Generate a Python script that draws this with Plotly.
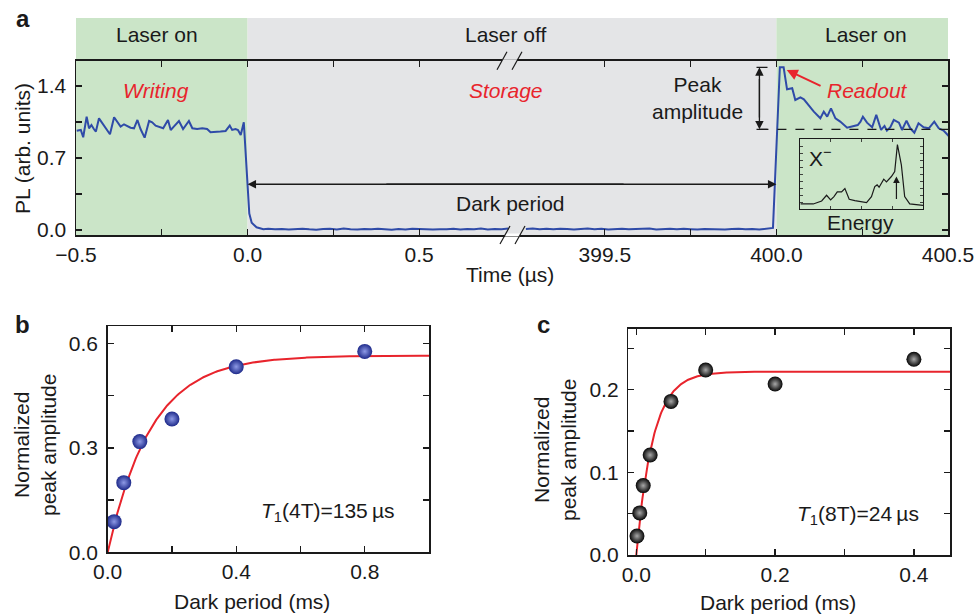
import numpy as np
import plotly.graph_objects as go

W, H = 975, 615
FONT = "Liberation Sans, Arial, Helvetica, sans-serif"
RED = "#e8242c"
BLUE = "#2f4ba8"
GREEN = "#cbe5c8"
GRAY = "#e4e5e7"
INK = "#1a1a1a"


def px(x):
    return x / W


def py(y):
    return 1 - y / H


# ---------------- Panel a data (time in microseconds) ----------------
OFFSET = 398.459  # broken-axis shift for the 399.x - 400.x segment

t_write = [-0.498, -0.486, -0.479, -0.469, -0.462, -0.455, -0.448, -0.442, -0.433, -0.423,
           -0.414, -0.401, -0.389, -0.380, -0.370, -0.360, -0.351, -0.341, -0.331, -0.321,
           -0.312, -0.300, -0.287, -0.278, -0.268, -0.258, -0.246, -0.232, -0.224, -0.215,
           -0.200, -0.188, -0.171, -0.161, -0.147, -0.132, -0.118, -0.108, -0.093, -0.079,
           -0.064, -0.052, -0.045, -0.035, -0.028, -0.020, -0.011, 0.005, 0.012, 0.026, 0.046]
pl_write = [0.965, 0.972, 0.901, 1.101, 0.988, 1.020, 0.981, 0.956, 1.085, 1.037,
            0.988, 0.930, 1.095, 1.053, 1.004, 1.027, 1.014, 0.994, 0.988, 1.069,
            0.981, 0.897, 1.059, 1.046, 1.014, 1.004, 0.988, 1.069, 0.972, 1.004,
            1.059, 0.981, 1.059, 0.988, 0.981, 0.988, 0.981, 0.949, 0.949, 0.956,
            0.962, 1.014, 0.972, 0.981, 0.972, 0.923, 1.046, 0.160, 0.070, 0.026, 0.008]

t_dark1 = [0.06, 0.08, 0.10, 0.12, 0.14, 0.16, 0.18, 0.20, 0.22, 0.24, 0.26, 0.28,
           0.30, 0.32, 0.34, 0.36, 0.38, 0.40, 0.42, 0.44, 0.46, 0.48, 0.50, 0.52,
           0.54, 0.56, 0.58, 0.60, 0.62, 0.64, 0.66, 0.68, 0.70, 0.72, 0.74, 0.76]
pl_dark1 = [0.012, 0.006, 0.010, 0.004, 0.008, 0.012, 0.006, 0.003, 0.009, 0.011, 0.005, 0.013,
            0.007, 0.004, 0.010, 0.006, 0.012, 0.008, 0.003, 0.009, 0.005, 0.011, 0.007, 0.010,
            0.004, 0.008, 0.006, 0.012, 0.005, 0.009, 0.007, 0.013, 0.004, 0.010, 0.006, 0.014]

t_dark2 = [399.27, 399.29, 399.31, 399.33, 399.35, 399.37, 399.39, 399.41, 399.43, 399.45,
           399.47, 399.49, 399.51, 399.53, 399.55, 399.57, 399.59, 399.61, 399.63, 399.65,
           399.67, 399.69, 399.71, 399.73, 399.75, 399.77, 399.79, 399.81, 399.83, 399.85,
           399.87, 399.89, 399.91, 399.93, 399.95, 399.97]
pl_dark2 = [0.010, 0.014, 0.008, 0.011, 0.006, 0.012, 0.009, 0.004, 0.010, 0.013, 0.007, 0.011,
            0.005, 0.009, 0.012, 0.006, 0.010, 0.008, 0.013, 0.005, 0.009, 0.011, 0.006, 0.012,
            0.008, 0.004, 0.010, 0.007, 0.011, 0.005, 0.009, 0.012, 0.006, 0.010, 0.004, 0.014]

t_read = [399.99, 400.010, 400.021, 400.031, 400.046, 400.055, 400.070, 400.080, 400.089,
          400.109, 400.128, 400.138, 400.148, 400.159, 400.172, 400.186, 400.206, 400.221,
          400.237, 400.245, 400.252, 400.264, 400.279, 400.291, 400.305, 400.315, 400.322,
          400.332, 400.342, 400.357, 400.366, 400.379, 400.390, 400.402, 400.414, 400.429,
          400.444, 400.460, 400.473, 400.487, 400.502]
pl_read = [0.020, 1.581, 1.581, 1.367, 1.377, 1.263, 1.289, 1.270, 1.231,
           1.150, 1.085, 1.150, 1.101, 1.182, 1.085, 1.053, 0.994, 1.004,
           1.020, 1.053, 1.101, 1.043, 0.998, 1.118, 0.972, 1.011, 0.965,
           0.998, 1.069, 1.043, 0.972, 1.062, 0.988, 0.946, 1.037, 0.998,
           0.988, 1.053, 0.988, 0.965, 0.913]

PEAK, BASELINE = 1.581, 0.978
DARK_ARROW_Y = 0.444

# inset spectrum (normalised energy, intensity)
e_x = [0.005, 0.108, 0.176, 0.216, 0.249, 0.276, 0.303, 0.338, 0.365, 0.400, 0.446, 0.486,
       0.541, 0.581, 0.608, 0.627, 0.643, 0.681, 0.703, 0.743, 0.770, 0.792, 0.824, 0.851,
       0.892, 1.000]
e_y = [0.072, 0.072, 0.115, 0.196, 0.129, 0.177, 0.244, 0.244, 0.292, 0.139, 0.120, 0.110,
       0.091, 0.177, 0.320, 0.344, 0.311, 0.426, 0.388, 0.464, 0.536, 0.919, 0.632, 0.177,
       0.072, 0.053]

# ---------------- Panel b / c data ----------------
dark_b = [0.02, 0.05, 0.10, 0.20, 0.40, 0.80]
amp_b = [0.088, 0.200, 0.318, 0.383, 0.533, 0.577]
A_b, T1_b = 0.565, 0.135  # ms

dark_c = [0.001, 0.005, 0.010, 0.020, 0.050, 0.100, 0.200, 0.400]
amp_c = [0.023, 0.051, 0.084, 0.121, 0.186, 0.224, 0.207, 0.237]
A_c, T1_c = 0.222, 0.024  # ms


def u(t):
    """map real time to broken-axis coordinate"""
    return [v if v < 10 else v - OFFSET for v in t]


U400 = 400.0 - OFFSET
U4005 = 400.5 - OFFSET

fig = go.Figure()

# ---- panel a trace ----
xa = u(t_write) + u(t_dark1) + [None] + u(t_dark2) + u(t_read)
ya = pl_write + pl_dark1 + [None] + pl_dark2 + pl_read
fig.add_trace(go.Scatter(x=xa, y=ya, mode="lines", line=dict(color=BLUE, width=2),
                         connectgaps=False, xaxis="x", yaxis="y", showlegend=False,
                         hoverinfo="skip"))

# ---- inset ----
fig.add_trace(go.Scatter(x=e_x, y=e_y, mode="lines", line=dict(color=INK, width=1.2),
                         xaxis="x4", yaxis="y4", showlegend=False, hoverinfo="skip"))

# ---- panel b ----
fb = np.linspace(0, 1.0, 300)
fig.add_trace(go.Scatter(x=fb, y=A_b * (1 - np.exp(-fb / T1_b)), mode="lines",
                         line=dict(color=RED, width=2), xaxis="x2", yaxis="y2",
                         showlegend=False, hoverinfo="skip"))
fig.add_trace(go.Scatter(x=dark_b, y=amp_b, mode="markers", xaxis="x2", yaxis="y2",
                         marker=dict(size=15, color="#1e2a8a",
                                     gradient=dict(type="radial", color="#8e9ae6"),
                                     line=dict(width=0)),
                         showlegend=False, hoverinfo="skip"))

# ---- panel c ----
fc = np.linspace(0, 0.452, 400)
fig.add_trace(go.Scatter(x=fc, y=A_c * (1 - np.exp(-fc / T1_c)), mode="lines",
                         line=dict(color=RED, width=2), xaxis="x3", yaxis="y3",
                         showlegend=False, hoverinfo="skip"))
fig.add_trace(go.Scatter(x=dark_c, y=amp_c, mode="markers", xaxis="x3", yaxis="y3",
                         marker=dict(size=15, color="#050505",
                                     gradient=dict(type="radial", color="#a8a8a8"),
                                     line=dict(width=0)),
                         showlegend=False, hoverinfo="skip"))

tickfont = dict(family=FONT, size=21, color=INK)


def ax_common(**kw):
    d = dict(showline=True, linecolor=INK, linewidth=1.5, mirror="ticks", ticks="inside",
             ticklen=6, tickwidth=1.3, tickcolor=INK, showgrid=False, zeroline=False,
             tickfont=tickfont, tickmode="array", fixedrange=True, automargin=False)
    d.update(kw)
    return d


def minor(vals):
    return dict(tickvals=vals, ticks="inside", ticklen=6, tickwidth=1.3, tickcolor=INK)


layout_axes = dict(
    xaxis=ax_common(domain=[px(76), px(948)], range=[-0.5, U4005], anchor="y",
                    tickvals=[-0.5, 0, 0.5, 399.5 - OFFSET, U400, U4005],
                    ticktext=["\u22120.5", "0.0", "0.5", "399.5", "400.0", "400.5"],
                    minor=minor([-0.25, 0.25, 399.75 - OFFSET, 400.25 - OFFSET])),
    yaxis=ax_common(domain=[py(235), py(60.7)], range=[-0.049, 1.645], anchor="x",
                    tickvals=[0, 0.7, 1.4], ticktext=["0.0", "0.7", "1.4"],
                    ticklabelstandoff=4, minor=minor([0.35, 1.05])),
    xaxis2=ax_common(domain=[px(107.7), px(429)], range=[0, 1.0], anchor="y2",
                     tickvals=[0, 0.4, 0.8], ticktext=["0.0", "0.4", "0.8"],
                     minor=minor([0.2, 0.6])),
    yaxis2=ax_common(domain=[py(552.3), py(326)], range=[0, 0.65], anchor="x2",
                     tickvals=[0, 0.3, 0.6], ticktext=["0.0", "0.3", "0.6"],
                     ticklabelstandoff=4, minor=minor([0.15, 0.45])),
    xaxis3=ax_common(domain=[px(628.3), px(950)], range=[-0.0115, 0.452], anchor="y3",
                     tickvals=[0, 0.2, 0.4], ticktext=["0.0", "0.2", "0.4"],
                     minor=minor([0.1, 0.3])),
    yaxis3=ax_common(domain=[py(555), py(328.7)], range=[0, 0.274], anchor="x3",
                     tickvals=[0, 0.1, 0.2], ticktext=["0.0", "0.1", "0.2"],
                     ticklabelstandoff=4, minor=minor([0.05, 0.15, 0.25])),
    xaxis4=dict(domain=[px(800), px(923)], range=[0, 1], anchor="y4", showline=True,
                linecolor=INK, linewidth=1, mirror="ticks", ticks="inside", ticklen=3,
                tickwidth=0.8, tickcolor=INK, showticklabels=False, showgrid=False,
                zeroline=False, tickmode="array", tickvals=[0.25, 0.5, 0.75],
                fixedrange=True, automargin=False),
    yaxis4=dict(domain=[py(209), py(139)], range=[0, 1], anchor="x4", showline=True,
                linecolor=INK, linewidth=1, mirror="ticks", ticks="inside", ticklen=3,
                tickwidth=0.8, tickcolor=INK, showticklabels=False, showgrid=False,
                zeroline=False, tickmode="array",
                tickvals=[0.1, 0.2, 0.3, 0.4, 0.5, 0.6, 0.7, 0.8, 0.9], fixedrange=True,
                automargin=False),
)

shapes = []
# background bands (header + plot area)
for x0, x1, col in [(-0.5, 0, GREEN), (0, U400, GRAY), (U400, U4005, GREEN)]:
    shapes.append(dict(type="rect", xref="x", yref="paper", x0=x0, x1=x1,
                       y0=py(235), y1=py(18), fillcolor=col, line=dict(width=0),
                       layer="below"))
# dashed baseline
shapes.append(dict(type="line", xref="x", yref="y", x0=1.4915, x1=U4005, y0=BASELINE,
                   y1=BASELINE, line=dict(color=INK, width=1.2, dash="dash")))
# caps of peak amplitude arrow
for yy in (PEAK, BASELINE):
    shapes.append(dict(type="line", xref="x", yref="y", x0=1.483, x1=1.515, y0=yy, y1=yy,
                       line=dict(color=INK, width=1.2)))
# axis break marks
for (c1, c2, yb) in [(502, 517, 60.7), (505, 520, 235)]:
    shapes.append(dict(type="rect", xref="paper", yref="paper", x0=px(c1), x1=px(c2),
                       y0=py(yb + 1.5), y1=py(yb - 1.5), fillcolor=GRAY if yb < 100 else "white",
                       line=dict(width=0), layer="above"))
    for c in (c1, c2):
        shapes.append(dict(type="line", xref="paper", yref="paper", x0=px(c - 5), x1=px(c + 5),
                           y0=py(yb + 9), y1=py(yb - 9), line=dict(color=INK, width=1.2),
                           layer="above"))

ann = []


def text(x, y, s, size=21, color=INK, angle=0, **kw):
    ann.append(dict(x=px(x), y=py(y), xref="paper", yref="paper", text=s, showarrow=False,
                    font=dict(family=FONT, size=size, color=color), textangle=angle,
                    xanchor="center", yanchor="middle", **kw))


text(157, 35, "Laser on")
text(506, 35, "Laser off")
text(866, 35, "Laser on")
text(156, 90, "<i>Writing</i>", color=RED)
text(506, 90, "<i>Storage</i>", color=RED)
text(867, 90, "<i>Readout</i>", color=RED)
text(697, 98, "Peak<br>amplitude")
text(510, 203, "Dark period")
text(820, 157, "X<sup>\u2212</sup>")
text(860, 222, "Energy")
text(510, 274, "Time (\u00b5s)")
text(22, 149, "PL (arb. units)", angle=-90)
text(23, 18, "<b>a</b>", size=24)
text(22, 324, "<b>b</b>", size=24)
text(543, 324, "<b>c</b>", size=24)
text(35, 445, "Normalized<br>peak amplitude", angle=-90)
text(555, 450, "Normalized<br>peak amplitude", angle=-90)
text(252, 601, "Dark period (ms)")
text(778, 602, "Dark period (ms)")
text(328, 512, "<i>T</i><sub>1</sub>(4T)=135\u2009\u00b5s")
text(858, 515, "<i>T</i><sub>1</sub>(8T)=24\u2009\u00b5s")

# arrows (tails overlap so the shafts are continuous)
arrow = dict(showarrow=True, arrowhead=2, arrowsize=1.3, arrowwidth=1.3, arrowcolor=INK,
             text="", axref="x", ayref="y", xref="x", yref="y")
ann.append(dict(arrow, x=0, y=DARK_ARROW_Y, ax=1.1, ay=DARK_ARROW_Y))
ann.append(dict(arrow, x=U400, y=DARK_ARROW_Y, ax=0.4, ay=DARK_ARROW_Y))
ann.append(dict(arrow, x=1.4915, y=PEAK, ax=1.4915, ay=BASELINE + 0.1))
ann.append(dict(arrow, x=1.4915, y=BASELINE, ax=1.4915, ay=PEAK - 0.1))
ann.append(dict(arrow, x=1.571, y=1.555, ax=1.674, ay=1.393, arrowcolor=RED, arrowwidth=2,
                arrowsize=1.1))
ann.append(dict(showarrow=True, arrowhead=2, arrowsize=1.1, arrowwidth=1.2, arrowcolor=INK,
                text="", xref="x4", yref="y4", axref="x4", ayref="y4",
                x=0.784, y=0.464, ax=0.784, ay=0.12))

fig.update_layout(width=W, height=H, margin=dict(l=0, r=0, t=0, b=0, autoexpand=False),
                  paper_bgcolor="white", plot_bgcolor="rgba(0,0,0,0)",
                  shapes=shapes, annotations=ann, showlegend=False,
                  font=dict(family=FONT, size=21, color=INK), **layout_axes)

# remove the default 8px page margin so the figure fills the window exactly
fig.write_html("out.html",
               config={"displayModeBar": False, "staticPlot": True},
               post_script="document.body.style.margin='0px';"
                           "document.body.style.overflow='hidden';")
